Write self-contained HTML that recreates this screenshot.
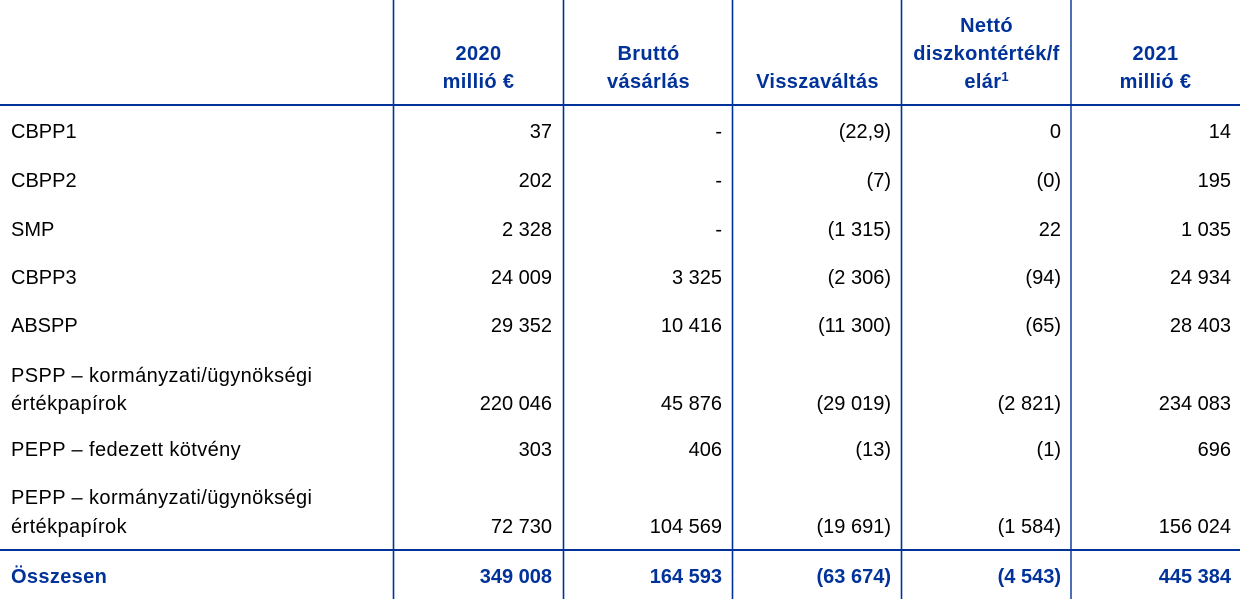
<!DOCTYPE html>
<html>
<head>
<meta charset="utf-8">
<style>
  html, body { margin:0; padding:0; background:#fff; }
  #wrap { position:relative; width:1240px; height:606px; overflow:hidden; background:#fff;
    font-family:"Liberation Sans", Arial, sans-serif; font-size:20px; line-height:20px; color:#000; }
  .t { position:absolute; white-space:nowrap; }
  .r { text-align:right; }
  .h { font-weight:bold; color:#003299; text-align:center; width:169px; letter-spacing:0.35px; }
  .b { font-weight:bold; color:#003299; }
  .w { letter-spacing:0.4px; }
  sup { font-size:13px; line-height:0; position:relative; top:-7px; vertical-align:baseline; letter-spacing:0; }
  svg { position:absolute; left:0; top:0; }
</style>
</head>
<body>
<div id="wrap">
<svg width="1240" height="606">
  <g stroke="#003299" fill="none">
    <line x1="0" y1="105" x2="1240" y2="105" stroke-width="2"/>
    <line x1="0" y1="550" x2="1240" y2="550" stroke-width="2"/>
    <line x1="393.5" y1="0" x2="393.5" y2="599" stroke-width="1.6"/>
    <line x1="563.5" y1="0" x2="563.5" y2="599" stroke-width="1.6"/>
    <line x1="732.5" y1="0" x2="732.5" y2="599" stroke-width="1.6"/>
    <line x1="901.5" y1="0" x2="901.5" y2="599" stroke-width="1.6"/>
    <line x1="1071" y1="0" x2="1071" y2="599" stroke-width="1.4"/>
  </g>
</svg>

<!-- header -->
<div class="t h" style="left:394px;top:44px;">2020</div>
<div class="t h" style="left:394px;top:72px;">millió €</div>
<div class="t h" style="left:564px;top:44px;">Bruttó</div>
<div class="t h" style="left:564px;top:72px;">vásárlás</div>
<div class="t h" style="left:733px;top:72px;">Visszaváltás</div>
<div class="t h" style="left:902px;top:16px;">Nettó</div>
<div class="t h" style="left:902px;top:44px;">diszkontérték/f</div>
<div class="t h" style="left:902px;top:72px;">elár<sup>1</sup></div>
<div class="t h" style="left:1071px;top:44px;">2021</div>
<div class="t h" style="left:1071px;top:72px;">millió €</div>

<!-- labels -->
<div class="t" style="left:11px;top:122px;">CBPP1</div>
<div class="t" style="left:11px;top:171px;">CBPP2</div>
<div class="t" style="left:11px;top:220px;">SMP</div>
<div class="t" style="left:11px;top:268px;">CBPP3</div>
<div class="t" style="left:11px;top:316px;">ABSPP</div>
<div class="t w" style="left:11px;top:366px;">PSPP – kormányzati/ügynökségi</div>
<div class="t w" style="left:11px;top:394px;">értékpapírok</div>
<div class="t w" style="left:11px;top:440px;">PEPP – fedezett kötvény</div>
<div class="t w" style="left:11px;top:488px;">PEPP – kormányzati/ügynökségi</div>
<div class="t w" style="left:11px;top:517px;">értékpapírok</div>
<div class="t b" style="left:11px;top:567px;letter-spacing:0.35px;">Összesen</div>

<!-- col 1 -->
<div class="t r" style="right:688px;top:122px;">37</div>
<div class="t r" style="right:688px;top:171px;">202</div>
<div class="t r" style="right:688px;top:220px;">2 328</div>
<div class="t r" style="right:688px;top:268px;">24 009</div>
<div class="t r" style="right:688px;top:316px;">29 352</div>
<div class="t r" style="right:688px;top:394px;">220 046</div>
<div class="t r" style="right:688px;top:440px;">303</div>
<div class="t r" style="right:688px;top:517px;">72 730</div>
<div class="t r b" style="right:688px;top:567px;">349 008</div>

<!-- col 2 -->
<div class="t r" style="right:518px;top:122px;">-</div>
<div class="t r" style="right:518px;top:171px;">-</div>
<div class="t r" style="right:518px;top:220px;">-</div>
<div class="t r" style="right:518px;top:268px;">3 325</div>
<div class="t r" style="right:518px;top:316px;">10 416</div>
<div class="t r" style="right:518px;top:394px;">45 876</div>
<div class="t r" style="right:518px;top:440px;">406</div>
<div class="t r" style="right:518px;top:517px;">104 569</div>
<div class="t r b" style="right:518px;top:567px;">164 593</div>

<!-- col 3 -->
<div class="t r" style="right:349px;top:122px;">(22,9)</div>
<div class="t r" style="right:349px;top:171px;">(7)</div>
<div class="t r" style="right:349px;top:220px;">(1 315)</div>
<div class="t r" style="right:349px;top:268px;">(2 306)</div>
<div class="t r" style="right:349px;top:316px;">(11 300)</div>
<div class="t r" style="right:349px;top:394px;">(29 019)</div>
<div class="t r" style="right:349px;top:440px;">(13)</div>
<div class="t r" style="right:349px;top:517px;">(19 691)</div>
<div class="t r b" style="right:349px;top:567px;">(63 674)</div>

<!-- col 4 -->
<div class="t r" style="right:179px;top:122px;">0</div>
<div class="t r" style="right:179px;top:171px;">(0)</div>
<div class="t r" style="right:179px;top:220px;">22</div>
<div class="t r" style="right:179px;top:268px;">(94)</div>
<div class="t r" style="right:179px;top:316px;">(65)</div>
<div class="t r" style="right:179px;top:394px;">(2 821)</div>
<div class="t r" style="right:179px;top:440px;">(1)</div>
<div class="t r" style="right:179px;top:517px;">(1 584)</div>
<div class="t r b" style="right:179px;top:567px;">(4 543)</div>

<!-- col 5 -->
<div class="t r" style="right:9px;top:122px;">14</div>
<div class="t r" style="right:9px;top:171px;">195</div>
<div class="t r" style="right:9px;top:220px;">1 035</div>
<div class="t r" style="right:9px;top:268px;">24 934</div>
<div class="t r" style="right:9px;top:316px;">28 403</div>
<div class="t r" style="right:9px;top:394px;">234 083</div>
<div class="t r" style="right:9px;top:440px;">696</div>
<div class="t r" style="right:9px;top:517px;">156 024</div>
<div class="t r b" style="right:9px;top:567px;">445 384</div>
</div>
</body>
</html>
